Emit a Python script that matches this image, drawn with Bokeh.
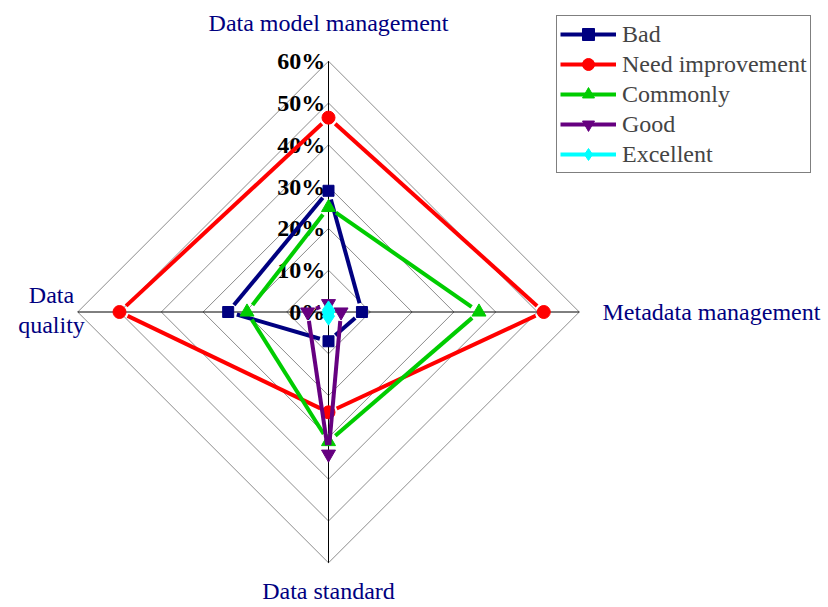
import numpy as np
from bokeh.plotting import figure
from bokeh.models import Legend, LegendItem, Range1d
from bokeh.core.properties import value
from bokeh.embed import file_html
from bokeh.resources import INLINE

categories = ["Data model management", "Metadata management", "Data standard", "Data quality"]
ticks = [0, 10, 20, 30, 40, 50, 60]
tick_labels = ["0%", "10%", "20%", "30%", "40%", "50%", "60%"]
series_names = ["Bad", "Need improvement", "Commonly", "Good", "Excellent"]
bad = [29, 8, 7, 24]
need_improvement = [46.5, 51.5, 24, 50]
commonly = [25, 36, 31, 19.5]
good = [2, 3, 34, 5]
excellent = [0.5, 0, 1, 0]

colors = ["#000080", "#FF0000", "#00CC00", "#660080", "#00FFFF"]
markers = ["square", "circle", "triangle", "inverted_triangle", "diamond"]
msizes = [11, 13, 14, 14, 18]

PX = 4.18  # pixels per percent
cx_px, cy_px = 328, 311.5
W, H = 828, 607
FONT = "Liberation Serif"

p = figure(width=W, height=H, output_backend="svg", toolbar_location=None,
           x_range=Range1d(-cx_px / PX, (W - cx_px) / PX),
           y_range=Range1d(-(H - cy_px) / PX, cy_px / PX),
           min_border=0, outline_line_color=None)
p.axis.visible = False
p.grid.visible = False

n = len(categories)
theta = np.arange(n) * 2 * np.pi / n
sx, sy = np.sin(theta), np.cos(theta)

# grid diamonds
for t in ticks[1:]:
    xs = list(t * sx) + [t * sx[0]]
    ys = list(t * sy) + [t * sy[0]]
    p.line(xs, ys, line_color="#8c8c8c", line_width=1)
# axes
rmax = ticks[-1]
for i in range(n):
    p.line([0, rmax * sx[i]], [0, rmax * sy[i]], line_color="black", line_width=1)

# tick labels
p.text(x=[-0.8] * len(ticks), y=ticks, text=tick_labels, text_align="right",
       text_baseline="middle", text_font=value(FONT),
       text_font_size="24px", text_font_style="bold", text_color="black")

# category labels
lab_col = "#000080"
kw = dict(text_font=value(FONT), text_font_size="24px", text_color=lab_col, text_baseline="middle")
p.text(x=[0], y=[(cy_px - 22) / PX], text=[categories[0]], text_align="center", **kw)
p.text(x=[(602 - cx_px) / PX], y=[0], text=[categories[1]], text_align="left", **kw)
p.text(x=[0], y=[-(590 - cy_px) / PX], text=[categories[2]], text_align="center", **kw)
ql = categories[3].split(" ")
p.text(x=[-(cx_px - 51) / PX] * 2, y=[(cy_px - 294) / PX, -(324 - cy_px) / PX], text=ql,
       text_align="center", **kw)

gap = 9.0 / PX  # Excel-style gap between line and marker
items = []
for name, vals, c, m, ms in zip(series_names, [bad, need_improvement, commonly, good, excellent],
                                colors, markers, msizes):
    v = np.array(vals, dtype=float)
    px_ = v * sx
    py_ = v * sy
    segx, segy = [], []
    for i in range(n):
        j = (i + 1) % n
        dx, dy = px_[j] - px_[i], py_[j] - py_[i]
        L = np.hypot(dx, dy)
        if L > 2 * gap:
            ux, uy = dx / L, dy / L
            segx.append([px_[i] + ux * gap, px_[j] - ux * gap])
            segy.append([py_[i] + uy * gap, py_[j] - uy * gap])
    if segx:
        p.multi_line(segx, segy, line_color=c, line_width=4)
    r_leg = p.line(x=np.array([np.nan]), y=np.array([np.nan]), line_color=c, line_width=4)
    r2 = p.scatter(list(px_), list(py_), marker=m, size=ms, fill_color=c, line_color=c)
    items.append(LegendItem(label=name, renderers=[r_leg, r2]))

legend = Legend(items=items, location=(556, 434), glyph_width=56, glyph_height=30,
                label_height=30, spacing=0, padding=3, margin=0,
                label_text_font=FONT, label_text_font_size="24px",
                label_standoff=6, border_line_color="black", border_line_width=1,
                background_fill_alpha=1)
p.add_layout(legend)

open("out.html", "w").write(file_html(p, INLINE))
